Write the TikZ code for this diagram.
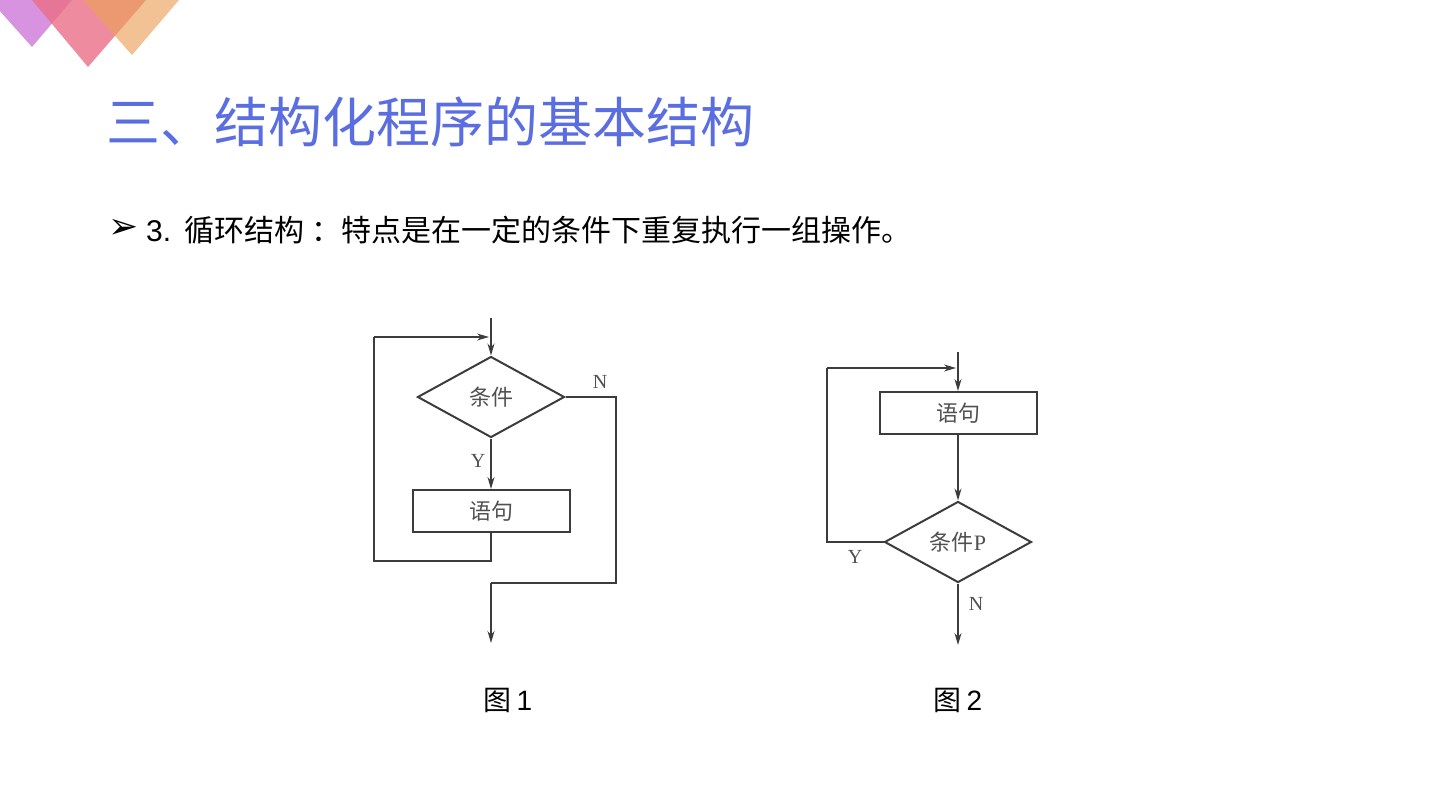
\documentclass[tikz,border=0pt]{standalone}
\usepackage{fontspec}
\setmainfont{Liberation Sans}
\newfontfamily\cjk{Noto Sans CJK SC}
\newfontfamily\dejavu{DejaVu Sans}
\newfontfamily\serifl{Liberation Serif}
\usetikzlibrary{shapes.geometric,arrows.meta}
\definecolor{titleblue}{HTML}{5B6EE1}
\definecolor{linegray}{HTML}{3C3C3C}
\definecolor{txtgray}{HTML}{505050}
\tikzset{
  flowbox/.style={draw=linegray,line width=2pt,minimum width=157pt,minimum height=42pt,inner sep=0pt,font=\cjk\fontsize{22}{22}\selectfont,text=txtgray},
  flowdia/.style={draw=linegray,line width=2pt,diamond,aspect=1.8,minimum width=147pt,minimum height=81pt,inner sep=0pt,font=\cjk\fontsize{22}{22}\selectfont,text=txtgray},
  conn/.style={draw=linegray,line width=1.3pt},
  arr/.style={conn,-{Stealth[length=12pt,width=7pt]}},
  yn/.style={font=\serifl\fontsize{20}{20}\selectfont,text=txtgray,inner sep=0pt},
  caption/.style={font=\fontsize{28}{28}\selectfont,inner sep=0pt}
}
\begin{document}
\begin{tikzpicture}[x=1pt,y=-1pt]
\useasboundingbox (0,0) rectangle (1440,810);
% decorative triangles
\fill[color={rgb,255:red,205;green,120;blue,215},opacity=0.8] (-10,0) -- (72,0) -- (32,47) -- cycle;
\fill[color={rgb,255:red,235;green,110;blue,135},opacity=0.8] (32,0) -- (146,0) -- (88,67) -- cycle;
\fill[color={rgb,255:red,235;green,160;blue,90},opacity=0.65] (83,0) -- (179,0) -- (132,55) -- cycle;
% title
\node[anchor=west,inner sep=0pt,text=titleblue,font=\cjk\fontsize{54}{54}\selectfont] (title) at (106,122) {三、结构化程序的基本结构};
% bullet line
\node[anchor=west,inner sep=0pt,font=\dejavu\fontsize{36}{36}\selectfont] (bullet) at (108,229) {➢};
\node[anchor=west,inner sep=0pt,font=\fontsize{30}{30}\selectfont] (line) at (146,230) {3.\hspace{13pt}{\cjk 循环结构\hspace{7pt}：特点是在一定的条件下重复执行一组操作。}};
% figure 1
\coordinate (in1) at (491,318);
\node[flowdia] (c1) at (491,397) {条件};
\node[flowbox] (s1) at (491,511) {语句};
\coordinate (l1a) at (491,561);
\coordinate (l1b) at (374,561);
\coordinate (l1c) at (374,337);
\coordinate (l1d) at (491,337);
\coordinate (n1a) at (616,397);
\coordinate (n1b) at (616,583);
\coordinate (n1c) at (491,583);
\coordinate (out1) at (491,643);
\draw[arr] (in1) -- (c1.north);
\draw[arr] (c1.south) -- (s1.north);
\draw[conn] (s1.south) -- (l1a) -- (l1b) -- (l1c);
\draw[arr] (l1c) -- ([xshift=-2pt]l1d);
\draw[conn] (c1.east) -- (n1a) -- (n1b) -- (n1c);
\draw[arr] (n1c) -- (out1);
\node[yn] (y1) at (478,461) {Y};
\node[yn] (nl1) at (600,382) {N};
\node[caption] (cap1) at (508,700) {{\cjk 图}\,1};
% figure 2
\coordinate (in2) at (958,352);
\node[flowbox] (s2) at (958,413) {语句};
\node[flowdia] (c2) at (958,542) {条件{\serifl P}};
\coordinate (l2a) at (827,542);
\coordinate (l2b) at (827,368);
\coordinate (l2c) at (958,368);
\coordinate (out2) at (958,645);
\draw[arr] (in2) -- (s2.north);
\draw[arr] (s2.south) -- (c2.north);
\draw[conn] (c2.west) -- (l2a) -- (l2b);
\draw[arr] (l2b) -- ([xshift=-2pt]l2c);
\draw[arr] (c2.south) -- (out2);
\node[yn] (y2) at (855,557) {Y};
\node[yn] (nl2) at (976,604) {N};
\node[caption] (cap2) at (958,700) {{\cjk 图}\,2};
\end{tikzpicture}
\end{document}
